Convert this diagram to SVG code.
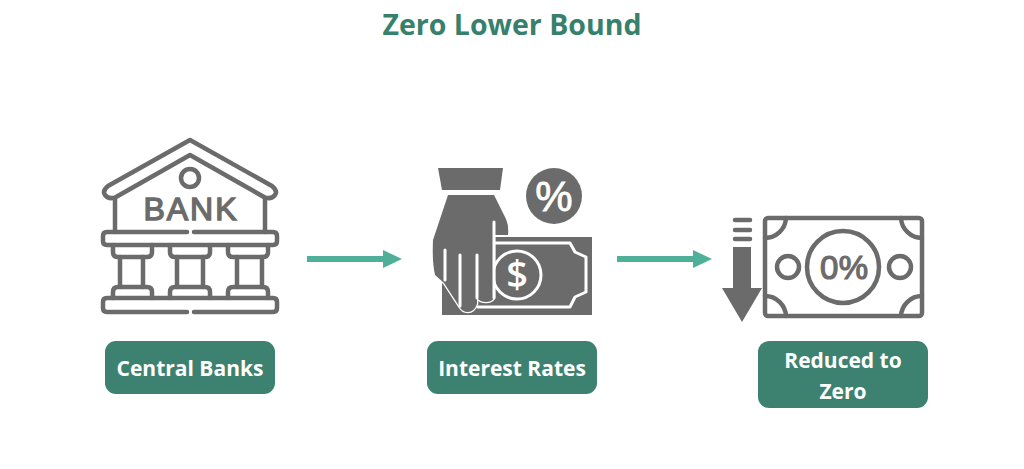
<svg xmlns="http://www.w3.org/2000/svg" width="1024" height="469" viewBox="0 0 1024 469">
<defs>
<style>
text{font-family:"Open Sans","Noto Sans","DejaVu Sans",sans-serif;font-weight:700}
.title{font-size:28.5px;fill:#37806b;text-anchor:middle}
.pill{fill:#3d8271}
.lab{font-size:21px;fill:#fff;text-anchor:middle}
.ln{fill:none;stroke:#6b6b6b;stroke-width:4.5;stroke-linecap:round;stroke-linejoin:round}
.ic{fill:#6b6b6b}
.wl{fill:none;stroke:#fff;stroke-width:3;stroke-linecap:round;stroke-linejoin:round}
.conn{stroke:#4fb09a;stroke-width:6;fill:none}
.sym{font-family:"Liberation Sans",Arial,sans-serif;font-weight:400;text-anchor:middle}
</style>
<marker id="ah" markerUnits="userSpaceOnUse" markerWidth="20" markerHeight="20" refX="1" refY="10" orient="auto"><path d="M0 1L19 10L0 19Z" fill="#4fb09a"/></marker>
</defs>
<rect width="1024" height="469" fill="#fff"/>
<text class="title" x="512" y="35">Zero Lower Bound</text>
<g id="connectors">
<line class="conn" x1="307" y1="259" x2="384" y2="259" marker-end="url(#ah)"/>
<line class="conn" x1="617" y1="259" x2="694" y2="259" marker-end="url(#ah)"/>
</g>
<g id="central-banks">
<path class="ln" d="M190 140L272 186Q278 191 275 195Q271 200 264 197L190 155L116 197Q109 200 105 195Q102 191 108 186Z"/>
<path class="ln" d="M115 198V232M265 198V232"/>
<circle class="ln" cx="190" cy="178" r="9"/>
<text class="sym" x="190" y="220" font-size="32" fill="#6b6b6b" stroke="#6b6b6b" stroke-width="1.4" textLength="93" lengthAdjust="spacing">BANK</text>
<path class="ln" d="M187 232H107Q103 232 103 236V241Q103 245 107 245H273Q277 245 277 241V236Q277 232 273 232H194"/>
<path class="ln" d="M113 245V252Q113 257 118 257H147Q152 257 152 252V245M170 245V252Q170 257 175 257H205Q210 257 210 252V245M228 245V252Q228 257 233 257H263Q268 257 268 252V245"/>
<path class="ln" d="M120 257V287M143 257V287M177 257V287M203 257V287M237 257V287M262 257V287"/>
<path class="ln" d="M113 298V292Q113 287 118 287H147Q152 287 152 292V298M170 298V292Q170 287 175 287H205Q210 287 210 292V298M228 298V292Q228 287 233 287H263Q268 287 268 292V298"/>
<path class="ln" d="M187 312H107Q103 312 103 308V302Q103 298 107 298H273Q277 298 277 302V308Q277 312 273 312H194"/>
<rect class="pill" x="105" y="341" width="170" height="53" rx="11"/>
<text class="lab" x="190" y="376">Central Banks</text>
</g>
<g id="interest-rates">
<path class="ic" d="M438 168H503L500 190H442Z"/>
<circle class="ic" cx="554" cy="196" r="28"/>
<text class="sym" x="554" y="211" font-size="42" fill="#fff" stroke="#fff" stroke-width=".8">%</text>
<rect class="ic" x="442" y="237" width="150" height="78"/>
<path class="wl" d="M494 243H570L575 252L586 257V292L575 297L570 307H478"/>
<circle cx="517" cy="275" r="24" fill="#6b6b6b" stroke="#fff" stroke-width="3"/>
<text x="517" y="288" text-anchor="middle" font-size="38" fill="#fff" style="font-weight:600">$</text>
<path class="ic" d="M448 195H494L506 219Q509 226 508 235H494V298Q492 302 486 302Q480 302 477 298V304Q474 312 468 312Q462 312 459 306L444 283L435 275Q432 262 433 240Z" stroke="#fff" stroke-width="2.5" stroke-linejoin="round" paint-order="stroke"/>
<path class="wl" d="M445 250V280M460 255V306M477 255V298M494 222V298"/>
<rect class="pill" x="427" y="341" width="170" height="53" rx="11"/>
<text class="lab" x="512" y="376">Interest Rates</text>
</g>
<g id="reduced-to-zero">
<path class="ln" d="M735 220H750M735 230H750M735 239H750" stroke-linecap="butt"/>
<path class="ic" d="M733 247H751V288H762L742 322L722 288H733Z"/>
<rect class="ln" x="765" y="218" width="157" height="98" rx="3"/>
<path class="ln" d="M786 218A21 21 0 0 1 765 238M901 218A21 21 0 0 0 922 238M786 316A21 21 0 0 0 765 296M901 316A21 21 0 0 1 922 296"/>
<circle class="ln" cx="843" cy="267" r="36"/>
<circle class="ln" cx="788" cy="267" r="11"/>
<circle class="ln" cx="900" cy="267" r="11"/>
<text class="sym" x="844" y="279" font-size="33" fill="#6b6b6b" stroke="#6b6b6b" stroke-width="1.2" textLength="48">0%</text>
<rect class="pill" x="758" y="341" width="170" height="67" rx="11"/>
<text class="lab" x="843" y="368">Reduced to</text>
<text class="lab" x="843" y="399">Zero</text>
</g>
</svg>
